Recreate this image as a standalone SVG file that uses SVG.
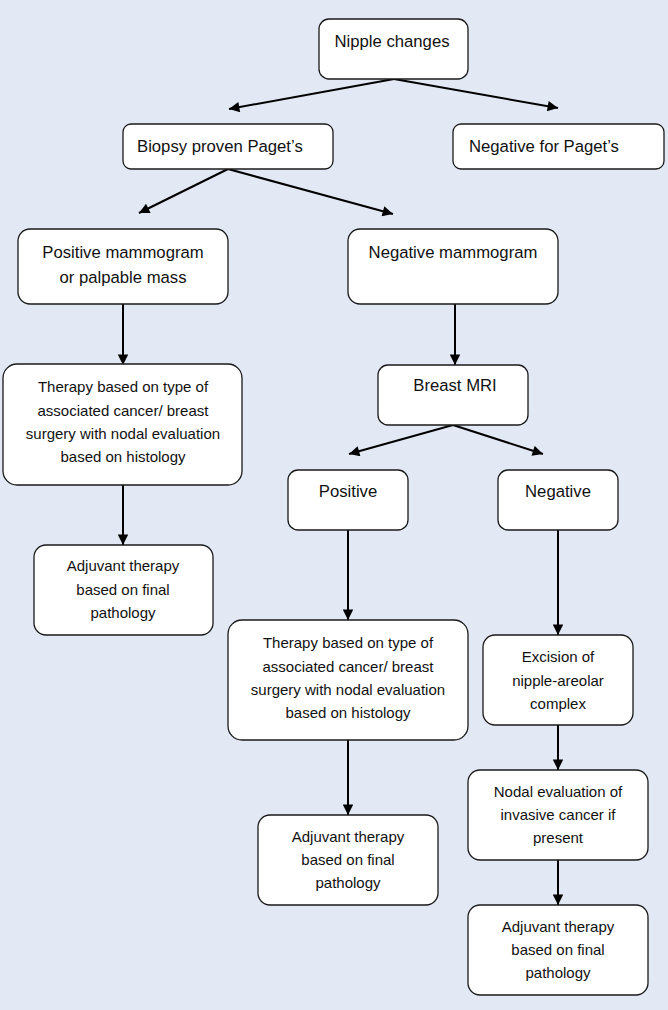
<svg xmlns="http://www.w3.org/2000/svg" width="668" height="1010" viewBox="0 0 668 1010">
<defs>
<marker id="ah" viewBox="0 0 10 10" refX="10" refY="5" markerWidth="5.8" markerHeight="5.2" orient="auto" markerUnits="strokeWidth">
<path d="M0,0 L10,5 L0,10 z" fill="#000"/>
</marker>
<style>
.box{fill:#fff;stroke:#1a1a1a;stroke-width:1.3}
.t{font-family:"Liberation Sans",Arial,sans-serif;fill:#111}
.l{font-size:16.7px}
.s{font-size:15px;text-anchor:middle}
.m{text-anchor:middle}
.c{stroke:#000;stroke-width:2;fill:none;marker-end:url(#ah)}
</style>
</defs>
<rect width="668" height="1010" fill="#e2e8f4"/>
<g id="connectors">
<line class="c" x1="394" y1="79" x2="229" y2="109"/>
<line class="c" x1="394" y1="79" x2="558" y2="108"/>
<line class="c" x1="228" y1="169" x2="139" y2="213"/>
<line class="c" x1="228" y1="169" x2="393" y2="214"/>
<line class="c" x1="123" y1="304" x2="123" y2="365"/>
<line class="c" x1="123" y1="485" x2="123" y2="545"/>
<line class="c" x1="455" y1="304" x2="455" y2="365"/>
<line class="c" x1="453" y1="425" x2="349" y2="454"/>
<line class="c" x1="453" y1="425" x2="543" y2="454"/>
<line class="c" x1="348" y1="530" x2="348" y2="620"/>
<line class="c" x1="558" y1="530" x2="558" y2="635"/>
<line class="c" x1="348" y1="740" x2="348" y2="815"/>
<line class="c" x1="558" y1="725" x2="558" y2="770"/>
<line class="c" x1="558" y1="860" x2="558" y2="905"/>
</g>
<g id="n1"><rect class="box" x="319" y="19" width="149" height="60" rx="10"/><text class="t l m" x="392" y="47">Nipple changes</text></g>
<g id="n2"><rect class="box" x="123" y="124" width="210" height="45" rx="8"/><text class="t l" x="137" y="152">Biopsy proven Paget’s</text></g>
<g id="n3"><rect class="box" x="453" y="124" width="211" height="45" rx="8"/><text class="t l" x="469" y="152">Negative for Paget’s</text></g>
<g id="n4"><rect class="box" x="18" y="229" width="210" height="75" rx="12"/><text class="t l m" x="123" y="258">Positive mammogram</text><text class="t l m" x="123" y="283">or palpable mass</text></g>
<g id="n5"><rect class="box" x="348" y="229" width="210" height="75" rx="12"/><text class="t l m" x="453" y="258">Negative mammogram</text></g>
<g id="n6"><rect class="box" x="3" y="364" width="239" height="121" rx="14"/><text class="t s" x="123" y="392">Therapy based on type of</text><text class="t s" x="123" y="416">associated cancer/ breast</text><text class="t s" x="123" y="439">surgery with nodal evaluation</text><text class="t s" x="123" y="462">based on histology</text></g>
<g id="n7"><rect class="box" x="34" y="545" width="179" height="90" rx="12"/><text class="t s" x="123" y="571">Adjuvant therapy</text><text class="t s" x="123" y="595">based on final</text><text class="t s" x="123" y="618">pathology</text></g>
<g id="n8"><rect class="box" x="378" y="365" width="150" height="60" rx="10"/><text class="t l m" x="455" y="391">Breast MRI</text></g>
<g id="n9"><rect class="box" x="288" y="470" width="120" height="60" rx="10"/><text class="t l m" x="348" y="497">Positive</text></g>
<g id="n10"><rect class="box" x="498" y="470" width="120" height="60" rx="10"/><text class="t l m" x="558" y="497">Negative</text></g>
<g id="n11"><rect class="box" x="228" y="620" width="240" height="120" rx="14"/><text class="t s" x="348" y="648">Therapy based on type of</text><text class="t s" x="348" y="672">associated cancer/ breast</text><text class="t s" x="348" y="695">surgery with nodal evaluation</text><text class="t s" x="348" y="718">based on histology</text></g>
<g id="n12"><rect class="box" x="483" y="635" width="150" height="90" rx="12"/><text class="t s" x="558" y="662">Excision of</text><text class="t s" x="558" y="686">nipple-areolar</text><text class="t s" x="558" y="709">complex</text></g>
<g id="n13"><rect class="box" x="258" y="815" width="180" height="90" rx="12"/><text class="t s" x="348" y="842">Adjuvant therapy</text><text class="t s" x="348" y="865">based on final</text><text class="t s" x="348" y="888">pathology</text></g>
<g id="n14"><rect class="box" x="468" y="770" width="180" height="90" rx="12"/><text class="t s" x="558" y="797">Nodal evaluation of</text><text class="t s" x="558" y="820">invasive cancer if</text><text class="t s" x="558" y="843">present</text></g>
<g id="n15"><rect class="box" x="468" y="905" width="180" height="90" rx="12"/><text class="t s" x="558" y="932">Adjuvant therapy</text><text class="t s" x="558" y="955">based on final</text><text class="t s" x="558" y="978">pathology</text></g>
</svg>
